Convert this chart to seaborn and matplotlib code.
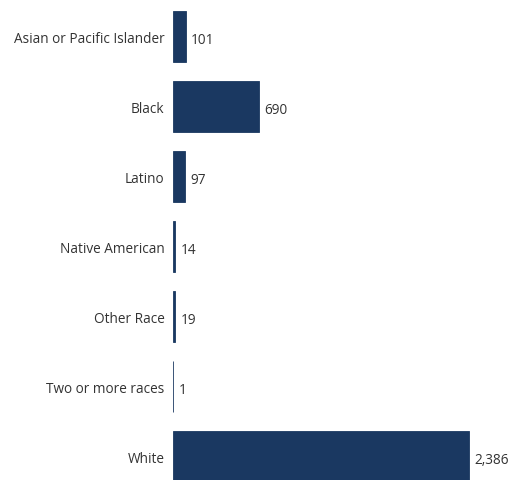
import matplotlib
matplotlib.use("Agg")
import matplotlib.pyplot as plt
import seaborn as sns
import pandas as pd

categories = ["Asian or Pacific Islander", "Black", "Latino", "Native American",
              "Other Race", "Two or more races", "White"]
values = [101, 690, 97, 14, 19, 1, 2386]

sns.set_theme(style="white")
plt.rcParams['font.family'] = ['Open Sans', 'DejaVu Sans']

df = pd.DataFrame({"race": categories, "count": values})

W, H = 513, 481
fig = plt.figure(figsize=(W / 100, H / 100), dpi=100)
ax = fig.add_axes([173 / W, 0, 340 / W, 1])

sns.barplot(data=df, x="count", y="race", order=categories, color="#1a3861",
            width=0.73, ax=ax, saturation=1, edgecolor="#1a3861", linewidth=0.6)

for i, v in enumerate(values):
    ax.text(v + 45, i + 0.04, f"{v:,}", va="center", ha="left",
            fontsize=9.8, color="#333333")

ax.set_xlim(0, 2741)
ax.set_ylim(6.336, -0.536)
ax.set_xlabel("")
ax.set_ylabel("")
ax.set_xticks([])
ax.tick_params(axis="y", length=0, pad=6, labelsize=9.8, labelcolor="#333333")
for s in ax.spines.values():
    s.set_visible(False)

fig.savefig("out.png", dpi=100)
